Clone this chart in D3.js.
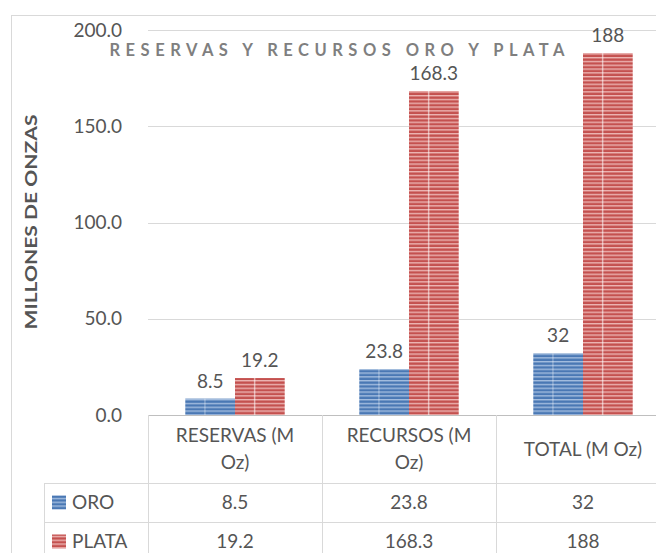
<!DOCTYPE html>
<html>
<head>
<meta charset="utf-8">
<script src="https://cdn.jsdelivr.net/npm/d3@7"></script>
<style>
  body { margin: 0; background: #fff; }
  svg { display: block; font-family: Lato, "Open Sans", sans-serif; }
</style>
</head>
<body>
<div id="chart"></div>
<script>
// chart data
const categories = ['RESERVAS (M Oz)', 'RECURSOS (M Oz)', 'TOTAL (M Oz)'];
const categoryLines = [['RESERVAS (M', 'Oz)'], ['RECURSOS (M', 'Oz)'], ['TOTAL (M Oz)']];
const seriesNames = ['ORO', 'PLATA'];
const oroValues = [8.5, 23.8, 32];
const plataValues = [19.2, 168.3, 188];
const yTicks = [0, 50, 100, 150, 200];

const width = 656, height = 553;
const margin = { top: 30, left: 148, zero: 415 };
const textColor = '#555555';

const svg = d3.select('#chart')
    .append('svg')
    .attr('width', width)
    .attr('height', height);

// stripe patterns for the bars
const defs = svg.append('defs');
const palette = {
    ORO: { base: '#4a78b4', light: '#a3bddf' },
    PLATA: { base: '#c4514f', light: '#ecb4b2' }
};
seriesNames.forEach(s => {
    let p = defs.append('pattern')
        .attr('id', 'stripe-' + s)
        .attr('patternUnits', 'userSpaceOnUse')
        .attr('width', 8)
        .attr('height', 3.8);
    p.append('rect').attr('width', 8).attr('height', 3.8).attr('fill', palette[s].base);
    p.append('rect').attr('y', 0).attr('width', 8).attr('height', 1.4).attr('fill', palette[s].light);
});

// outer chart frame
svg.append('rect')
    .attr('x', 11.5).attr('y', 15.5)
    .attr('width', width + 20).attr('height', height + 20)
    .attr('fill', 'none')
    .attr('stroke', '#d9d9d9');

const x = d3.scaleBand()
    .domain(categories)
    .range([margin.left, margin.left + 3 * 174]);

const xs = d3.scaleBand()
    .domain(seriesNames)
    .range([0, x.bandwidth()])
    .paddingInner(0)
    .paddingOuter(0.75);

const y = d3.scaleLinear()
    .domain([0, 200])
    .range([margin.zero, margin.top]);

// gridlines
svg.append('g')
    .selectAll('line')
    .data(yTicks.filter(d => d > 0))
    .enter()
    .append('line')
    .attr('x1', margin.left).attr('x2', width)
    .attr('y1', d => Math.round(y(d)) + 0.5)
    .attr('y2', d => Math.round(y(d)) + 0.5)
    .attr('stroke', '#d9d9d9')
    .attr('stroke-width', 1);

// y tick labels
svg.append('g')
    .selectAll('text')
    .data(yTicks)
    .enter()
    .append('text')
    .attr('x', 122)
    .attr('y', d => y(d))
    .attr('dy', '0.35em')
    .attr('text-anchor', 'end')
    .attr('font-size', '19px')
    .attr('fill', textColor)
    .text(d => d3.format('.1f')(d));

// y axis title
svg.append('text')
    .attr('transform', 'translate(37,222) rotate(-90)')
    .attr('text-anchor', 'middle')
    .attr('font-size', '17px')
    .attr('font-weight', 'bold')
    .attr('fill', textColor)
    .attr('textLength', 215)
    .attr('lengthAdjust', 'spacingAndGlyphs')
    .text('MILLONES DE ONZAS');

// title
svg.append('text')
    .attr('x', 337)
    .attr('y', 56)
    .attr('text-anchor', 'middle')
    .attr('font-size', '16.5px')
    .attr('font-weight', 'bold')
    .attr('fill', '#7f7f7f')
    .attr('textLength', 455)
    .attr('lengthAdjust', 'spacing')
    .text('RESERVAS Y RECURSOS ORO Y PLATA');

// bars
const seriesData = [
    { name: 'ORO', values: oroValues },
    { name: 'PLATA', values: plataValues }
];

seriesData.forEach(s => {
    let g = svg.append('g');
    let rows = s.values.map((v, i) => ({ cat: categories[i], value: v }));

    g.selectAll('rect.bar')
        .data(rows)
        .enter()
        .append('rect')
        .attr('class', 'bar')
        .attr('x', d => x(d.cat) + xs(s.name))
        .attr('y', d => y(d.value))
        .attr('width', xs.bandwidth())
        .attr('height', d => y(0) - y(d.value))
        .attr('fill', `url(#stripe-${s.name})`);

    // light vertical streak inside each bar
    g.selectAll('rect.streak')
        .data(rows)
        .enter()
        .append('rect')
        .attr('class', 'streak')
        .attr('x', d => x(d.cat) + xs(s.name) + xs.bandwidth() * 0.38)
        .attr('y', d => y(d.value))
        .attr('width', 1.5)
        .attr('height', d => y(0) - y(d.value))
        .attr('fill', '#ffffff')
        .attr('opacity', s.name === 'PLATA' ? 0.55 : 0.3);

    g.selectAll('text')
        .data(rows)
        .enter()
        .append('text')
        .attr('x', d => x(d.cat) + xs(s.name) + xs.bandwidth() / 2)
        .attr('y', d => y(d.value) - 11)
        .attr('text-anchor', 'middle')
        .attr('font-size', '19px')
        .attr('fill', textColor)
        .text(d => String(d.value));
});

// data table
const tableTop = margin.zero, headerBottom = 483, rowH = 39;
const lineColor = '#d9d9d9';
const table = svg.append('g');

// horizontal lines
table.append('line')
    .attr('x1', margin.left).attr('x2', width)
    .attr('y1', tableTop + 0.5).attr('y2', tableTop + 0.5)
    .attr('stroke', '#bfbfbf');
[headerBottom, headerBottom + rowH].forEach(yy => {
    table.append('line')
        .attr('x1', 44).attr('x2', width)
        .attr('y1', yy + 0.5).attr('y2', yy + 0.5)
        .attr('stroke', lineColor);
});

// vertical lines
table.append('line')
    .attr('x1', 44.5).attr('x2', 44.5)
    .attr('y1', headerBottom).attr('y2', height)
    .attr('stroke', lineColor);
categories.forEach(c => {
    table.append('line')
        .attr('x1', x(c) + 0.5).attr('x2', x(c) + 0.5)
        .attr('y1', tableTop).attr('y2', height)
        .attr('stroke', lineColor);
});

// header labels
categories.forEach((c, i) => {
    let lines = categoryLines[i];
    let cy = (tableTop + headerBottom) / 2;
    let t = table.append('text')
        .attr('x', x(c) + x.bandwidth() / 2)
        .attr('text-anchor', 'middle')
        .attr('font-size', '19px')
        .attr('fill', textColor);
    lines.forEach((ln, j) => {
        t.append('tspan')
            .attr('x', x(c) + x.bandwidth() / 2)
            .attr('y', cy + (j - (lines.length - 1) / 2) * 27)
            .attr('dy', '0.35em')
            .text(ln);
    });
});

// rows
seriesData.forEach((s, r) => {
    let cy = headerBottom + rowH * r + rowH / 2;
    table.append('rect')
        .attr('x', 52).attr('y', cy - 7)
        .attr('width', 14).attr('height', 14)
        .attr('fill', `url(#stripe-${s.name})`);
    table.append('text')
        .attr('x', 72).attr('y', cy)
        .attr('dy', '0.35em')
        .attr('font-size', '19px')
        .attr('fill', textColor)
        .text(s.name);
    table.selectAll(null)
        .data(s.values)
        .enter()
        .append('text')
        .attr('x', (d, i) => x(categories[i]) + x.bandwidth() / 2)
        .attr('y', cy)
        .attr('dy', '0.35em')
        .attr('text-anchor', 'middle')
        .attr('font-size', '19px')
        .attr('fill', textColor)
        .text(d => String(d));
});
</script>
</body>
</html>
